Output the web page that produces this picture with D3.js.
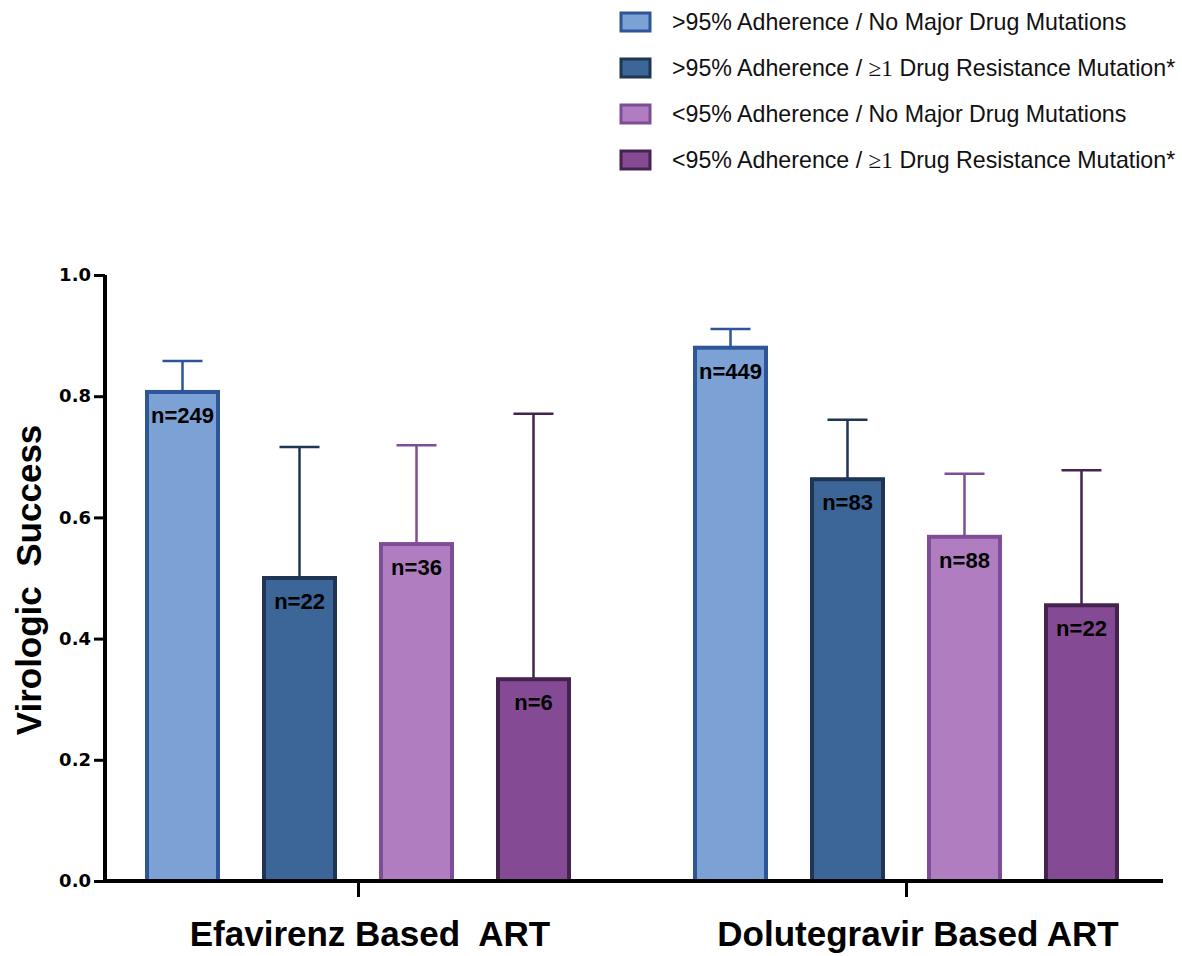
<!DOCTYPE html>
<html>
<head>
<meta charset="utf-8">
<script src="https://cdn.jsdelivr.net/npm/d3@7"></script>
<style>
  body { margin: 0; background: #fff; }
  text { font-family: "Liberation Sans", Arial, Helvetica, sans-serif; }
</style>
</head>
<body>
<div id="chart"></div>
<script>
(function () {
  const width = 1182, height = 956;

  // data
  const groups = ["Efavirenz Based  ART", "Dolutegravir Based ART"];
  const series = [
    ">95% Adherence / No Major Drug Mutations",
    ">95% Adherence / \u22651 Drug Resistance Mutation*",
    "<95% Adherence / No Major Drug Mutations",
    "<95% Adherence / \u22651 Drug Resistance Mutation*"
  ];
  const efavirenzValues = [0.807, 0.5, 0.556, 0.333];
  const efavirenzUpper = [0.858, 0.716, 0.719, 0.771];
  const efavirenzN = [249, 22, 36, 6];
  const dolutegravirValues = [0.880, 0.663, 0.568, 0.455];
  const dolutegravirUpper = [0.911, 0.761, 0.672, 0.678];
  const dolutegravirN = [449, 83, 88, 22];
  const yTicks = [0, 0.2, 0.4, 0.6, 0.8, 1.0];

  const fills = ["#7ba1d5", "#3b6697", "#b07ec0", "#854a94"];
  const strokes = ["#2e5597", "#1f3553", "#7e4d98", "#44244f"];

  const rows = [
    { vals: efavirenzValues, up: efavirenzUpper, n: efavirenzN },
    { vals: dolutegravirValues, up: dolutegravirUpper, n: dolutegravirN }
  ];
  const bars = [];
  groups.forEach((g, gi) => {
    series.forEach((s, si) => {
      bars.push({ group: g, series: s, si: si, value: rows[gi].vals[si], upper: rows[gi].up[si], n: rows[gi].n[si] });
    });
  });

  const svg = d3.select("#chart").append("svg")
    .attr("width", width)
    .attr("height", height);

  const y = d3.scaleLinear().domain([0, 1]).range([881, 275]);
  const x0 = d3.scalePoint().domain(groups).range([358, 906]);
  const x1 = d3.scaleBand().domain(series).range([-234, 234])
    .paddingInner(0.359).paddingOuter(0.1795);

  // y axis
  const yAxis = svg.append("g")
    .attr("transform", "translate(105,0)")
    .call(d3.axisLeft(y).tickValues(yTicks).tickFormat(d3.format(".1f")).tickSize(11).tickPadding(3));
  yAxis.select(".domain").attr("stroke-width", 4).attr("d", "M0," + y(1) + "V" + (y(0) + 2));
  yAxis.selectAll(".tick line").attr("stroke-width", 3);
  yAxis.selectAll(".tick text")
    .attr("font-size", 18).attr("font-weight", "bold").attr("fill", "#000")
    .style("font-family", "'DejaVu Sans', Arial, sans-serif");

  // bars
  const bar = svg.append("g").selectAll("g")
    .data(bars)
    .join("g")
    .attr("transform", d => "translate(" + x0(d.group) + ",0)");

  // error bars (upper only)
  bar.append("line")
    .attr("x1", d => x1(d.series) + x1.bandwidth() / 2)
    .attr("x2", d => x1(d.series) + x1.bandwidth() / 2)
    .attr("y1", d => y(d.value))
    .attr("y2", d => y(d.upper))
    .attr("stroke", d => strokes[d.si])
    .attr("stroke-width", 2.5);
  bar.append("line")
    .attr("x1", d => x1(d.series) + x1.bandwidth() / 2 - 20)
    .attr("x2", d => x1(d.series) + x1.bandwidth() / 2 + 20)
    .attr("y1", d => y(d.upper))
    .attr("y2", d => y(d.upper))
    .attr("stroke", d => strokes[d.si])
    .attr("stroke-width", 2.5);

  bar.append("rect")
    .attr("x", d => x1(d.series) + 2)
    .attr("width", x1.bandwidth() - 4)
    .attr("y", d => y(d.value))
    .attr("height", d => y(0) - y(d.value))
    .attr("fill", d => fills[d.si])
    .attr("stroke", d => strokes[d.si])
    .attr("stroke-width", 4);

  bar.append("text")
    .attr("x", d => x1(d.series) + x1.bandwidth() / 2)
    .attr("y", d => y(d.value) + 31)
    .attr("text-anchor", "middle")
    .attr("font-size", 22)
    .attr("font-weight", "bold")
    .text(d => "n=" + d.n);

  // x axis
  const xAxis = svg.append("g")
    .attr("transform", "translate(0," + y(0) + ")")
    .call(d3.axisBottom(x0).tickSize(16).tickFormat(""));
  xAxis.select(".domain").attr("stroke-width", 4).attr("d", "M103,0H1163");
  xAxis.selectAll(".tick line").attr("stroke-width", 3).attr("y1", 2);

  svg.append("g").selectAll("text")
    .data(groups)
    .join("text")
    .attr("x", d => x0(d) + 12)
    .attr("y", 946)
    .attr("text-anchor", "middle")
    .attr("font-size", 35)
    .attr("font-weight", "bold")
    .attr("xml:space", "preserve")
    .style("white-space", "pre")
    .text(d => d);

  // y title
  svg.append("text")
    .attr("transform", "translate(41,580) rotate(-90)")
    .attr("text-anchor", "middle")
    .attr("font-size", 35)
    .attr("font-weight", "bold")
    .style("white-space", "pre")
    .text("Virologic  Success");

  // legend
  const legend = svg.append("g").selectAll("g")
    .data(series)
    .join("g")
    .attr("transform", (d, i) => "translate(620," + (22 + i * 46) + ")");
  legend.append("rect")
    .attr("x", 1).attr("y", -9)
    .attr("width", 29).attr("height", 18)
    .attr("fill", (d, i) => fills[i])
    .attr("stroke", (d, i) => strokes[i])
    .attr("stroke-width", 3);
  const lt = legend.append("text")
    .attr("x", 52)
    .attr("y", 8)
    .attr("font-size", 23.2)
    .attr("fill", "#111");
  lt.each(function (d) {
    const t = d3.select(this);
    const parts = d.split("\u2265");
    if (parts.length === 1) {
      t.text(d);
    } else {
      t.append("tspan").text(parts[0]);
      t.append("tspan").style("font-family", "'Liberation Serif', 'Times New Roman', serif").text("\u2265");
      t.append("tspan").style("font-family", "'Liberation Serif', 'Times New Roman', serif").text(parts[1].slice(0, 1));
      t.append("tspan").text(parts[1].slice(1));
    }
  });
})();
</script>
</body>
</html>
